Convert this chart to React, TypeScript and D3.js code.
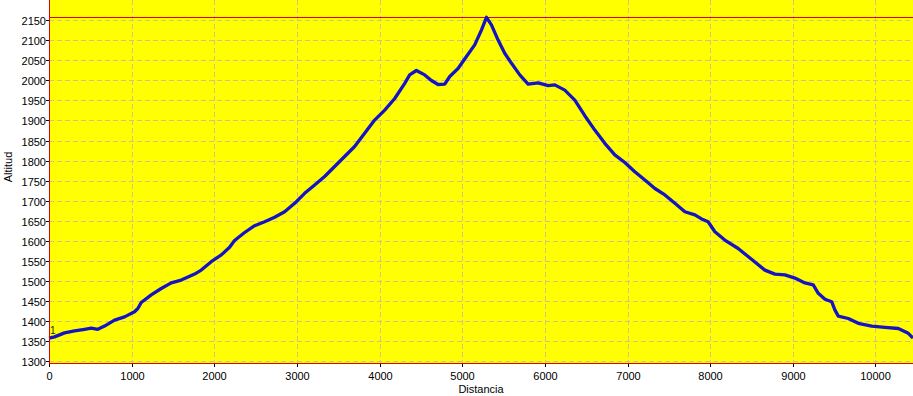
import React, { useEffect, useRef } from 'react';
import * as d3 from 'd3';

// distance (m) / altitude (m) read from the profile
const distancia = [
  0, 67, 188, 309, 430, 511, 591, 672, 793, 914, 1035, 1075, 1116, 1237, 1358, 1479, 1600, 1762, 1842, 1963,
  2085, 2185, 2245, 2367, 2488, 2609, 2730, 2851, 2972, 3093, 3214, 3335, 3456, 3577, 3698, 3819, 3940, 4062,
  4183, 4304, 4364, 4445, 4546, 4627, 4707, 4788, 4849, 4949, 5051, 5151, 5232, 5293, 5353, 5434, 5514, 5596,
  5696, 5797, 5918, 6039, 6120, 6241, 6362, 6483, 6604, 6725, 6846, 6967, 7088, 7210, 7331, 7452, 7573, 7694,
  7815, 7896, 7975, 8057, 8177, 8339, 8500, 8662, 8783, 8904, 9025, 9146, 9247, 9308, 9389, 9470, 9510, 9550,
  9671, 9792, 9954, 10115, 10276, 10397, 10454,
];
const altitud = [
  1356, 1359, 1369, 1374, 1378, 1381, 1378, 1386, 1401, 1409, 1422, 1430, 1445, 1464, 1480, 1494, 1501, 1516, 1526, 1547,
  1564, 1583, 1600, 1620, 1637, 1647, 1658, 1672, 1693, 1718, 1739, 1760, 1785, 1810, 1835, 1868, 1901, 1926,
  1955, 1993, 2014, 2025, 2014, 2000, 1990, 1991, 2010, 2030, 2060, 2089, 2126, 2158, 2139, 2101, 2068, 2043,
  2014, 1991, 1994, 1987, 1989, 1976, 1951, 1912, 1876, 1843, 1814, 1795, 1772, 1751, 1730, 1714, 1693, 1672,
  1664, 1654, 1647, 1622, 1601, 1580, 1553, 1526, 1516, 1514, 1506, 1494, 1489, 1468, 1453, 1447, 1426, 1411,
  1405, 1393, 1386, 1383, 1380, 1368, 1356,
];
const yTicks = d3.range(1300, 2151, 50);
const xTicks = d3.range(0, 10001, 1000);
const altMax = 2158;

const W = 913;
const H = 396;

const App: React.FC = () => {
  const svgRef = useRef<SVGSVGElement>(null);

  useEffect(() => {
    if (!svgRef.current) return;
    const svg = d3.select(svgRef.current);
    svg.selectAll('*').remove();

    const left = 49;
    const right = W;
    const top = 0;
    const bottom = 363;

    const x = d3.scaleLinear().domain([0, 10454]).range([left, right]);
    const y = d3.scaleLinear().domain([1293.75, 2201.25]).range([bottom, top]);

    const font = 'Liberation Sans, Arial, sans-serif';
    const red = '#e00000';

    // plot background
    svg.append('rect')
      .attr('x', left).attr('y', top)
      .attr('width', right - left).attr('height', bottom - top)
      .attr('fill', '#ffff00');

    // grid
    svg.append('g').selectAll('line')
      .data(yTicks)
      .enter().append('line')
      .attr('x1', left).attr('x2', right)
      .attr('y1', d => Math.round(y(d)) + 0.5).attr('y2', d => Math.round(y(d)) + 0.5)
      .attr('stroke', '#cfc38a').attr('stroke-dasharray', '5,3');

    svg.append('g').selectAll('line')
      .data(xTicks.filter(d => d > 0))
      .enter().append('line')
      .attr('x1', d => Math.round(x(d)) + 0.5).attr('x2', d => Math.round(x(d)) + 0.5)
      .attr('y1', top).attr('y2', bottom)
      .attr('stroke', '#cfc38a').attr('stroke-dasharray', '5,3');

    // max altitude line
    svg.append('rect')
      .attr('x', left).attr('y', Math.round(y(altMax)))
      .attr('width', right - left).attr('height', 1)
      .attr('fill', red)
      .attr('shape-rendering', 'crispEdges');

    // profile
    const pts = distancia.map((d, i) => [d, altitud[i]] as [number, number]);
    const line = d3.line<[number, number]>()
      .x(d => x(d[0]))
      .y(d => y(d[1]));

    svg.append('path')
      .datum(pts)
      .attr('d', line)
      .attr('fill', 'none')
      .attr('stroke', '#1414c4')
      .attr('stroke-width', 3.3)
      .attr('stroke-linejoin', 'round');

    svg.append('text')
      .attr('x', 50).attr('y', 334)
      .attr('font-family', font).attr('font-size', 10)
      .attr('fill', '#222')
      .text('1');

    // axes lines
    svg.append('rect')
      .attr('x', left).attr('y', top)
      .attr('width', 1).attr('height', bottom - top + 1)
      .attr('fill', red)
      .attr('shape-rendering', 'crispEdges');
    svg.append('rect')
      .attr('x', left).attr('y', bottom)
      .attr('width', right - left).attr('height', 1)
      .attr('fill', red)
      .attr('shape-rendering', 'crispEdges');

    // y ticks
    const yg = svg.append('g').selectAll('g')
      .data(yTicks)
      .enter().append('g')
      .attr('transform', d => `translate(0, ${Math.round(y(d)) + 0.5})`);
    yg.append('line')
      .attr('x1', left - 3).attr('x2', left)
      .attr('stroke', '#000');
    yg.append('text')
      .attr('x', 46).attr('y', 4)
      .attr('text-anchor', 'end')
      .attr('font-family', font).attr('font-size', 11)
      .attr('fill', '#000')
      .text(d => d);

    // x ticks
    const xg = svg.append('g').selectAll('g')
      .data(xTicks)
      .enter().append('g')
      .attr('transform', d => `translate(${Math.round(x(d)) + 0.5}, 0)`);
    xg.append('line')
      .attr('y1', bottom + 1).attr('y2', bottom + 4)
      .attr('stroke', '#000');
    xg.append('text')
      .attr('y', 380)
      .attr('text-anchor', 'middle')
      .attr('font-family', font).attr('font-size', 11)
      .attr('fill', '#000')
      .text(d => d);

    // axis titles
    svg.append('text')
      .attr('x', (left + right) / 2).attr('y', 393)
      .attr('text-anchor', 'middle')
      .attr('font-family', font).attr('font-size', 11)
      .attr('fill', '#000')
      .text('Distancia');

    svg.append('text')
      .attr('transform', 'translate(12, 167) rotate(-90)')
      .attr('text-anchor', 'middle')
      .attr('font-family', font).attr('font-size', 11)
      .attr('fill', '#000')
      .text('Altitud');
  }, []);

  return (
    <svg
      ref={svgRef}
      width={W}
      height={H}
      style={{ position: 'absolute', left: 0, top: 0, background: '#fff' }}
    />
  );
};

export default App;
